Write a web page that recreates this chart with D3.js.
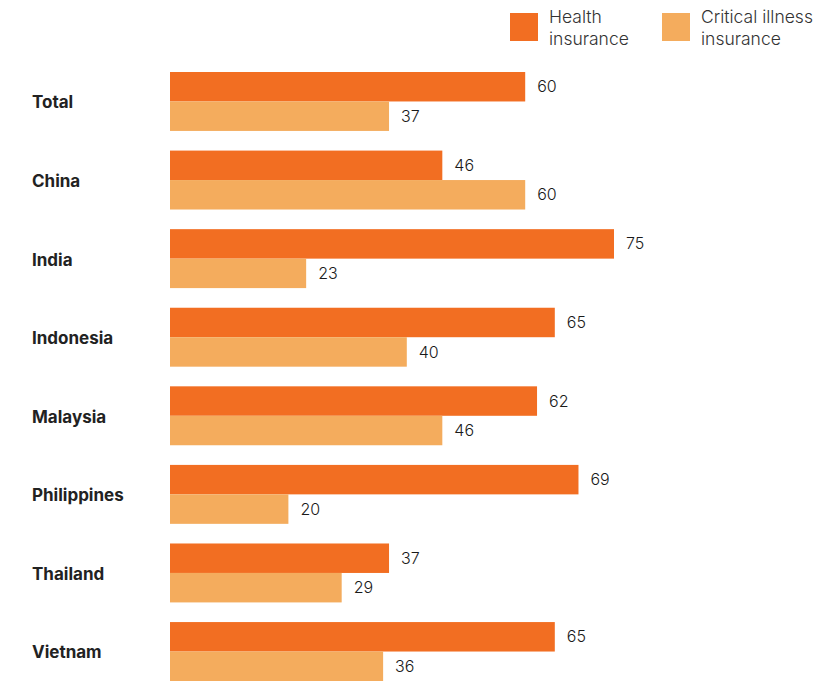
<!DOCTYPE html>
<html>
<head>
<meta charset="utf-8">
<script src="https://cdn.jsdelivr.net/npm/d3@7"></script>
<style>
  body { margin: 0; background: #fff; }
  svg text { font-family: Inter, "Open Sans", sans-serif; }
</style>
</head>
<body>
<div id="chart"></div>
<script>
// dados
const categories = ["Total", "China", "India", "Indonesia", "Malaysia", "Philippines", "Thailand", "Vietnam"];
const healthValues = [60, 46, 75, 65, 62, 69, 37, 65];
const criticalValues = [37, 60, 23, 40, 46, 20, 29, 36];
const seriesNames = ["Health insurance", "Critical illness insurance"];
const legendLines = [["Health", "insurance"], ["Critical illness", "insurance"]];
const colors = ["#F26E22", "#F4AC5D"];

const W = 813, H = 681;

const svg = d3.select("#chart")
    .append("svg")
    .attr("width", W)
    .attr("height", H);

const x = d3.scaleLinear()
    .domain([0, 100])
    .range([170, 762]);

const y = d3.scaleBand()
    .domain(categories)
    .range([72, 681])
    .paddingInner(0.25)
    .paddingOuter(0);

const ySub = d3.scaleBand()
    .domain(seriesNames)
    .range([0, y.bandwidth()]);

const rows = categories.map((c, i) => ({
    cat: c,
    vals: [
        { s: seriesNames[0], v: healthValues[i], c: colors[0] },
        { s: seriesNames[1], v: criticalValues[i], c: colors[1] }
    ]
}));

const grupos = svg.selectAll(".grupo")
    .data(rows)
    .enter()
    .append("g")
    .attr("class", "grupo")
    .attr("transform", d => `translate(0, ${y(d.cat)})`);

grupos.selectAll("rect")
    .data(d => d.vals)
    .enter()
    .append("rect")
    .attr("x", x(0))
    .attr("y", d => ySub(d.s))
    .attr("width", d => x(d.v) - x(0))
    .attr("height", ySub.bandwidth())
    .attr("fill", d => d.c);

grupos.selectAll(".valor")
    .data(d => d.vals)
    .enter()
    .append("text")
    .attr("class", "valor")
    .attr("x", d => x(d.v) + 12)
    .attr("y", d => ySub(d.s) + ySub.bandwidth() / 2)
    .attr("dy", "0.35em")
    .attr("font-size", 16)
    .attr("font-weight", 300)
    .attr("fill", "#1a1a1a")
    .text(d => d.v);

// categorias
grupos.append("text")
    .attr("x", 32)
    .attr("y", y.bandwidth() / 2 + 1)
    .attr("dy", "0.35em")
    .attr("font-size", 17)
    .attr("font-weight", "bold")
    .attr("fill", "#222")
    .text(d => d.cat);

// legenda
const legendX = [510, 662];
const legend = svg.selectAll(".legenda")
    .data(seriesNames)
    .enter()
    .append("g")
    .attr("class", "legenda")
    .attr("transform", (d, i) => `translate(${legendX[i]}, 13)`);

legend.append("rect")
    .attr("width", 28)
    .attr("height", 28)
    .attr("fill", (d, i) => colors[i]);

legend.append("text")
    .attr("x", 39)
    .attr("font-size", 17.5)
    .attr("font-weight", 300)
    .attr("fill", "#333")
    .selectAll("tspan")
    .data((d, i) => legendLines[i])
    .enter()
    .append("tspan")
    .attr("x", 39)
    .attr("y", (d, i) => 10 + i * 22)
    .text(d => d);
</script>
</body>
</html>
